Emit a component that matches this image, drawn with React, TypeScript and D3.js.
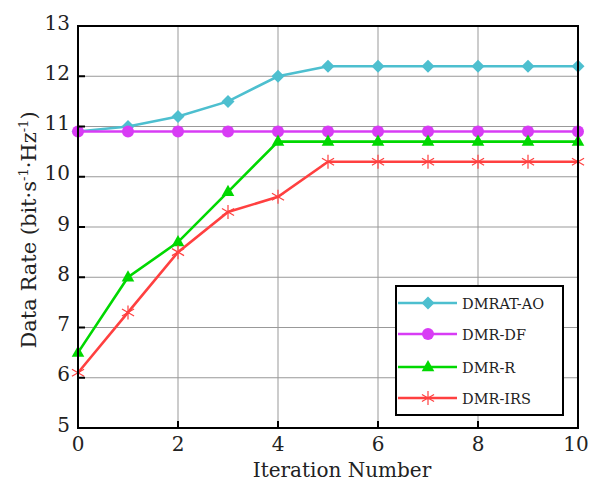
import React from "react";
import {scaleLinear, line} from "d3";

// iterations and rates
const iterations = [0, 1, 2, 3, 4, 5, 6, 7, 8, 9, 10];
const dmratAO = [10.9, 11.0, 11.2, 11.5, 12.0, 12.2, 12.2, 12.2, 12.2, 12.2, 12.2];
const dmrDF = [10.9, 10.9, 10.9, 10.9, 10.9, 10.9, 10.9, 10.9, 10.9, 10.9, 10.9];
const dmrR = [6.5, 8.0, 8.7, 9.7, 10.7, 10.7, 10.7, 10.7, 10.7, 10.7, 10.7];
const dmrIRS = [6.1, 7.3, 8.5, 9.3, 9.6, 10.3, 10.3, 10.3, 10.3, 10.3, 10.3];

const xTicks = [0, 2, 4, 6, 8, 10];
const yTicks = [5, 6, 7, 8, 9, 10, 11, 12, 13];

const series = [
    {name: "DMRAT-AO", values: dmratAO, color: "#4dbfcf", marker: "diamond"},
    {name: "DMR-DF", values: dmrDF, color: "#d83cf5", marker: "circle"},
    {name: "DMR-R", values: dmrR, color: "#00d800", marker: "triangle"},
    {name: "DMR-IRS", values: dmrIRS, color: "#ff4040", marker: "star"},
];

const font = "'DejaVu Serif', 'Liberation Serif', serif";

function Marker({type, x, y, color}) {
    if (type === "diamond") {
        const r = 6.5;
        return <path d={`M${x},${y - r}L${x + r},${y}L${x},${y + r}L${x - r},${y}Z`} fill={color}/>;
    }
    if (type === "circle") {
        return <circle cx={x} cy={y} r={6} fill={color}/>;
    }
    if (type === "triangle") {
        const r = 7;
        return <path d={`M${x},${y - r}L${x + r * 0.9},${y + r * 0.6}L${x - r * 0.9},${y + r * 0.6}Z`} fill={color}/>;
    }
    // asterisk
    const r = 7;
    const segs = [0, 60, 120].map(a => {
        const rad = (a * Math.PI) / 180 + Math.PI / 2;
        const dx = r * Math.cos(rad), dy = r * Math.sin(rad);
        return `M${x - dx},${y - dy}L${x + dx},${y + dy}`;
    });
    return <path d={segs.join("")} stroke={color} strokeWidth={1.2} fill="none"/>;
}

export default function App() {
    const width = 589, height = 482;
    const margin = {left: 78, right: 11, top: 26, bottom: 54};

    const xScale = scaleLinear()
        .domain([0, 10])
        .range([margin.left, width - margin.right]);
    const yScale = scaleLinear()
        .domain([5, 13])
        .range([height - margin.bottom, margin.top]);

    const lineGen = line<number>()
        .x((d, i) => xScale(iterations[i]))
        .y(d => yScale(d));

    const x0 = xScale(0), x1 = xScale(10), y0 = yScale(5), y1 = yScale(13);

    // legend box
    const lg = {x: 396, y: 286, w: 167, h: 129};
    const rowY = [303, 334, 367, 398];

    return (
        <svg width={width} height={height} style={{position: "absolute", left: 0, top: 0}}>
            <rect width={width} height={height} fill="#fff"/>
            {/* grid */}
            {xTicks.map(t => (
                <line key={"gx" + t} x1={xScale(t)} x2={xScale(t)} y1={y0} y2={y1} stroke="#999" strokeWidth={1}/>
            ))}
            {yTicks.map(t => (
                <line key={"gy" + t} x1={x0} x2={x1} y1={yScale(t)} y2={yScale(t)} stroke="#999" strokeWidth={1}/>
            ))}

            {/* series */}
            {series.map(s => (
                <g key={s.name}>
                    <path d={lineGen(s.values)} fill="none" stroke={s.color} strokeWidth={2.6}/>
                    {s.values.map((v, i) => (
                        <Marker key={i} type={s.marker} x={xScale(iterations[i])} y={yScale(v)} color={s.color}/>
                    ))}
                </g>
            ))}

            {/* frame and ticks */}
            <rect x={x0} y={y1} width={x1 - x0} height={y0 - y1} fill="none" stroke="#000" strokeWidth={2}/>
            {xTicks.map(t => (
                <line key={"tx" + t} x1={xScale(t)} x2={xScale(t)} y1={y0} y2={y0 - 7} stroke="#000" strokeWidth={2}/>
            ))}
            {yTicks.map(t => (
                <line key={"ty" + t} x1={x0} x2={x0 + 7} y1={yScale(t)} y2={yScale(t)} stroke="#000" strokeWidth={2}/>
            ))}

            {/* tick labels */}
            {xTicks.map(t => (
                <text key={"lx" + t} x={Math.min(xScale(t), width - 13)} y={y0 + 23} textAnchor="middle"
                      fontFamily={font} fontSize={20} fill="#222">{t}</text>
            ))}
            {yTicks.map(t => (
                <text key={"ly" + t} x={x0 - 8} y={yScale(t) + 3.5} textAnchor="end"
                      fontFamily={font} fontSize={20} fill="#222">{t}</text>
            ))}

            {/* axis titles */}
            <text x={(x0 + x1) / 2 + 14} y={477} textAnchor="middle" fontFamily={font} fontSize={20} fill="#222">
                Iteration Number
            </text>
            <text transform={`translate(36,230) rotate(-90)`} textAnchor="middle"
                  fontFamily={font} fontSize={21} fill="#222">
                Data Rate (bit·s<tspan dy={-8} fontSize={13}>-1</tspan>
                <tspan dy={8}>·Hz</tspan><tspan dy={-8} fontSize={13}>-1</tspan><tspan dy={8}>)</tspan>
            </text>

            {/* legend */}
            <rect x={lg.x} y={lg.y} width={lg.w} height={lg.h} fill="#fff" stroke="#000" strokeWidth={2}/>
            {series.map((s, i) => (
                <g key={"lg" + s.name}>
                    <line x1={lg.x + 2} x2={lg.x + 61} y1={rowY[i]} y2={rowY[i]} stroke={s.color} strokeWidth={2.6}/>
                    <Marker type={s.marker} x={lg.x + 32} y={rowY[i]} color={s.color}/>
                    <text x={lg.x + 66} y={rowY[i] + 5.5} fontFamily={font} fontSize={14.5} fill="#222">{s.name}</text>
                </g>
            ))}
        </svg>
    );
}
